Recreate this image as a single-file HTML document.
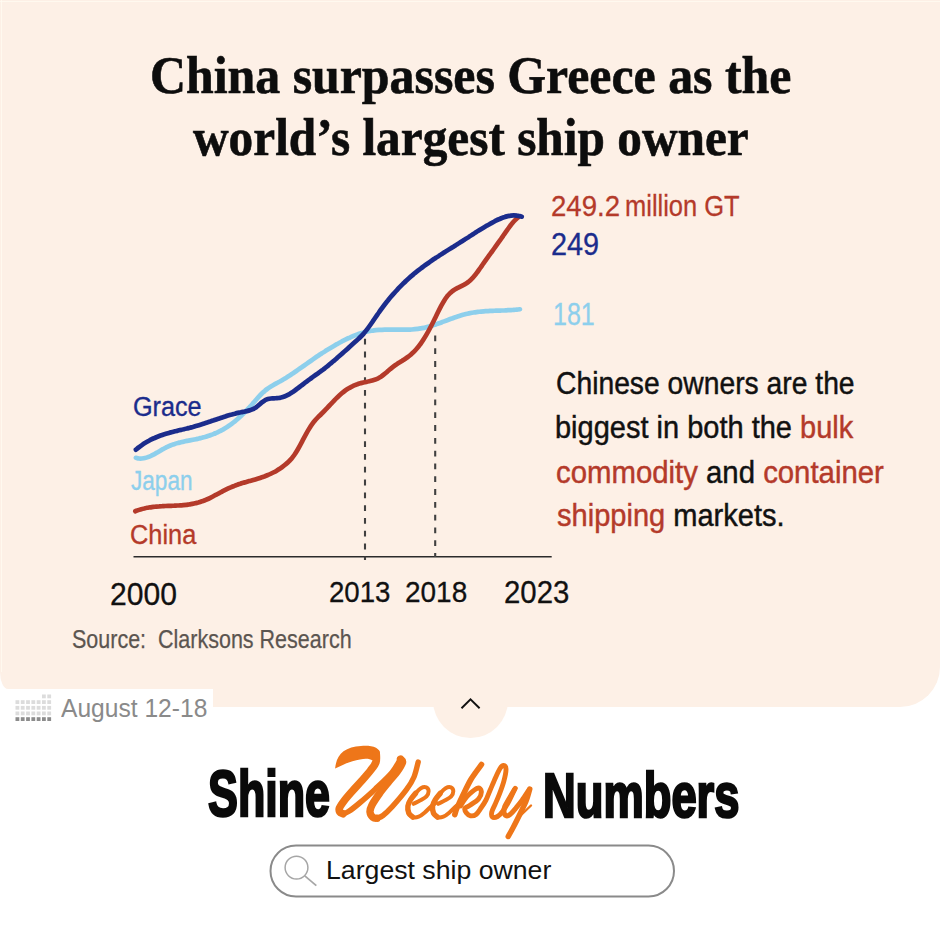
<!DOCTYPE html>
<html><head><meta charset="utf-8"><style>
html,body{margin:0;padding:0;width:940px;height:939px;overflow:hidden;background:#fff}
.abs{position:absolute}
.t{position:absolute;line-height:0;white-space:nowrap;transform-origin:0 0;font-family:'Liberation Sans',sans-serif}
</style></head><body>
<div class="abs" style="left:0;top:0;width:940px;height:707px;background:#FDF0E6;border-bottom-right-radius:40px"></div>
<div class="abs" style="left:0;top:688.5px;width:213px;height:30px;background:#fff"></div>
<div class="abs" style="left:0;top:668.5px;width:20px;height:20px;background:#fff"></div>
<div class="abs" style="left:0;top:658.5px;width:40px;height:30px;background:#FDF0E6;border-bottom-left-radius:8px 17px"></div>
<div class="abs" style="left:432.5px;top:662.5px;width:75px;height:75px;border-radius:50%;background:#FDF0E6"></div>
<div class="abs" style="left:0;top:1px;width:940px;height:1px;background:#FFFBF1;opacity:.8"></div>
<div class="abs" style="left:1px;top:0;width:1px;height:672px;background:#FFFBF1;opacity:.8"></div>
<svg class="abs" width="940" height="939" viewBox="0 0 940 939" style="left:0;top:0">
<line x1="133.5" y1="556.8" x2="551.7" y2="556.8" stroke="#2b2b2b" stroke-width="1.6"/>
<line x1="365" y1="338.8" x2="365" y2="560" stroke="#404040" stroke-width="2.1" stroke-dasharray="5.8 7"/>
<line x1="435.2" y1="335.5" x2="435.2" y2="557" stroke="#404040" stroke-width="2.1" stroke-dasharray="5.8 7"/>
<path d="M135.9,457.8 C136.4,457.9 137.9,458.4 138.9,458.5 C139.9,458.6 140.9,458.6 141.9,458.5 C142.9,458.4 143.9,458.3 144.9,458.0 C145.9,457.8 146.9,457.5 147.9,457.1 C148.9,456.8 149.9,456.3 150.9,455.9 C151.9,455.4 152.9,454.9 153.9,454.4 C154.9,453.8 155.9,453.2 156.9,452.7 C157.9,452.1 158.9,451.5 159.9,450.9 C160.9,450.3 161.9,449.7 162.9,449.2 C163.9,448.6 164.9,448.1 165.9,447.6 C166.9,447.0 167.9,446.6 168.9,446.1 C169.9,445.7 170.9,445.3 171.9,444.9 C172.9,444.5 173.9,444.2 174.9,443.9 C175.9,443.5 176.9,443.2 177.9,443.0 C178.9,442.7 179.9,442.5 180.9,442.2 C181.9,442.0 182.9,441.8 183.9,441.6 C184.9,441.3 185.9,441.1 186.9,440.9 C187.9,440.7 188.9,440.6 189.9,440.4 C190.9,440.2 191.9,440.0 192.9,439.8 C193.9,439.6 194.9,439.4 195.9,439.2 C196.9,439.0 197.9,438.7 198.9,438.5 C199.9,438.3 200.9,438.0 201.9,437.8 C202.9,437.5 203.9,437.2 204.9,437.0 C205.9,436.7 206.9,436.4 207.9,436.0 C208.9,435.7 209.9,435.4 210.9,435.0 C211.9,434.7 212.9,434.3 213.9,433.9 C214.9,433.5 215.9,433.0 216.9,432.6 C217.9,432.1 218.9,431.7 219.9,431.2 C220.9,430.7 221.9,430.1 222.9,429.6 C223.9,429.0 224.9,428.4 225.9,427.8 C226.9,427.2 227.9,426.5 228.9,425.8 C229.9,425.2 230.9,424.4 231.9,423.7 C232.9,422.9 233.9,422.1 234.9,421.3 C235.9,420.5 236.9,419.6 237.9,418.7 C238.9,417.8 239.9,416.9 240.9,416.0 C241.9,415.0 242.9,414.0 243.9,413.0 C244.9,412.0 245.9,411.0 246.9,410.0 C247.9,408.9 248.9,407.9 249.9,406.8 C250.9,405.7 251.9,404.6 252.9,403.4 C253.9,402.3 254.9,401.2 255.9,400.0 C256.9,398.9 257.9,397.8 258.9,396.7 C259.9,395.6 260.9,394.5 261.9,393.5 C262.9,392.6 263.9,391.6 264.9,390.8 C265.9,389.9 266.9,389.2 267.9,388.5 C268.9,387.7 269.9,387.1 270.9,386.5 C271.9,385.9 272.9,385.3 273.9,384.7 C274.9,384.2 275.9,383.6 276.9,383.1 C277.9,382.6 278.9,382.0 279.9,381.5 C280.9,380.9 281.9,380.3 282.9,379.7 C283.9,379.2 284.9,378.5 285.9,377.9 C286.9,377.3 287.9,376.7 288.9,376.0 C289.9,375.4 290.9,374.7 291.9,374.0 C292.9,373.4 293.9,372.7 294.9,372.0 C295.9,371.3 296.9,370.6 297.9,369.9 C298.9,369.2 299.9,368.5 300.9,367.8 C301.9,367.1 302.9,366.4 303.9,365.7 C304.9,365.0 305.9,364.3 306.9,363.6 C307.9,362.9 308.9,362.2 309.9,361.5 C310.9,360.8 311.9,360.1 312.9,359.4 C313.9,358.7 314.9,358.0 315.9,357.3 C316.9,356.6 317.9,356.0 318.9,355.3 C319.9,354.6 320.9,354.0 321.9,353.3 C322.9,352.7 323.9,352.0 324.9,351.4 C325.9,350.7 326.9,350.1 327.9,349.5 C328.9,348.9 329.9,348.3 330.9,347.7 C331.9,347.1 332.9,346.5 333.9,345.9 C334.9,345.3 335.9,344.7 336.9,344.2 C337.9,343.6 338.9,343.0 339.9,342.5 C340.9,342.0 341.9,341.4 342.9,340.9 C343.9,340.4 344.9,339.9 345.9,339.4 C346.9,338.9 347.9,338.4 348.9,338.0 C349.9,337.5 350.9,337.1 351.9,336.6 C352.9,336.2 353.9,335.8 354.9,335.4 C355.9,335.0 356.9,334.6 357.9,334.3 C358.9,333.9 359.9,333.6 360.9,333.3 C361.9,333.0 362.9,332.7 363.9,332.4 C364.9,332.1 365.9,331.9 366.9,331.6 C367.9,331.4 368.9,331.2 369.9,331.0 C370.9,330.9 371.9,330.7 372.9,330.6 C373.9,330.4 374.9,330.3 375.9,330.2 C376.9,330.1 377.9,330.0 378.9,329.9 C379.9,329.9 380.9,329.8 381.9,329.8 C382.9,329.7 383.9,329.7 384.9,329.7 C385.9,329.7 386.9,329.7 387.9,329.6 C388.9,329.6 389.9,329.6 390.9,329.6 C391.9,329.6 392.9,329.7 393.9,329.7 C394.9,329.7 395.9,329.7 396.9,329.7 C397.9,329.7 398.9,329.7 399.9,329.7 C400.9,329.7 401.9,329.7 402.9,329.7 C403.9,329.7 404.9,329.7 405.9,329.7 C406.9,329.7 407.9,329.7 408.9,329.6 C409.9,329.6 410.9,329.5 411.9,329.5 C412.9,329.4 413.9,329.3 414.9,329.2 C415.9,329.1 416.9,329.0 417.9,328.9 C418.9,328.8 419.9,328.6 420.9,328.4 C421.9,328.3 422.9,328.1 423.9,327.9 C424.9,327.6 425.9,327.4 426.9,327.1 C427.9,326.9 428.9,326.6 429.9,326.3 C430.9,326.0 431.9,325.7 432.9,325.4 C433.9,325.1 434.9,324.7 435.9,324.4 C436.9,324.0 437.9,323.7 438.9,323.3 C439.9,323.0 440.9,322.6 441.9,322.2 C442.9,321.8 443.9,321.5 444.9,321.1 C445.9,320.7 446.9,320.3 447.9,320.0 C448.9,319.6 449.9,319.2 450.9,318.8 C451.9,318.5 452.9,318.1 453.9,317.7 C454.9,317.4 455.9,317.0 456.9,316.7 C457.9,316.4 458.9,316.0 459.9,315.7 C460.9,315.4 461.9,315.1 462.9,314.8 C463.9,314.6 464.9,314.3 465.9,314.0 C466.9,313.8 467.9,313.6 468.9,313.4 C469.9,313.2 470.9,313.0 471.9,312.8 C472.9,312.6 473.9,312.5 474.9,312.3 C475.9,312.2 476.9,312.0 477.9,311.9 C478.9,311.8 479.9,311.7 480.9,311.6 C481.9,311.5 482.9,311.4 483.9,311.3 C484.9,311.2 485.9,311.2 486.9,311.1 C487.9,311.1 488.9,311.0 489.9,310.9 C490.9,310.9 491.9,310.9 492.9,310.8 C493.9,310.8 494.9,310.7 495.9,310.7 C496.9,310.7 497.9,310.6 498.9,310.6 C499.9,310.6 500.9,310.5 501.9,310.5 C502.9,310.4 503.9,310.4 504.9,310.4 C505.9,310.3 506.9,310.3 507.9,310.2 C508.9,310.2 509.9,310.1 510.9,310.1 C511.9,310.0 512.9,310.0 513.9,309.9 C514.9,309.8 515.9,309.7 516.9,309.6 C517.9,309.5 519.4,309.4 519.9,309.3" fill="none" stroke="#8DCFEC" stroke-width="4.7" stroke-linecap="round"/>
<path d="M135.3,511.2 C135.8,511.0 137.3,510.5 138.3,510.1 C139.3,509.8 140.3,509.5 141.3,509.2 C142.3,508.9 143.3,508.7 144.3,508.5 C145.3,508.2 146.3,508.0 147.3,507.8 C148.3,507.6 149.3,507.5 150.3,507.3 C151.3,507.2 152.3,507.0 153.3,506.9 C154.3,506.8 155.3,506.7 156.3,506.6 C157.3,506.5 158.3,506.4 159.3,506.4 C160.3,506.3 161.3,506.2 162.3,506.2 C163.3,506.1 164.3,506.1 165.3,506.0 C166.3,506.0 167.3,506.0 168.3,505.9 C169.3,505.9 170.3,505.8 171.3,505.8 C172.3,505.8 173.3,505.7 174.3,505.7 C175.3,505.6 176.3,505.6 177.3,505.5 C178.3,505.5 179.3,505.4 180.3,505.3 C181.3,505.3 182.3,505.2 183.3,505.1 C184.3,505.0 185.3,504.9 186.3,504.8 C187.3,504.7 188.3,504.5 189.3,504.4 C190.3,504.2 191.3,504.1 192.3,503.9 C193.3,503.7 194.3,503.5 195.3,503.2 C196.3,503.0 197.3,502.7 198.3,502.5 C199.3,502.2 200.3,501.9 201.3,501.5 C202.3,501.2 203.3,500.9 204.3,500.5 C205.3,500.1 206.3,499.6 207.3,499.2 C208.3,498.8 209.3,498.3 210.3,497.8 C211.3,497.3 212.3,496.8 213.3,496.3 C214.3,495.7 215.3,495.2 216.3,494.7 C217.3,494.1 218.3,493.6 219.3,493.1 C220.3,492.5 221.3,492.0 222.3,491.4 C223.3,490.9 224.3,490.4 225.3,489.9 C226.3,489.4 227.3,488.9 228.3,488.4 C229.3,487.9 230.3,487.5 231.3,487.1 C232.3,486.6 233.3,486.2 234.3,485.9 C235.3,485.5 236.3,485.1 237.3,484.8 C238.3,484.4 239.3,484.1 240.3,483.8 C241.3,483.4 242.3,483.1 243.3,482.8 C244.3,482.5 245.3,482.3 246.3,482.0 C247.3,481.7 248.3,481.4 249.3,481.1 C250.3,480.8 251.3,480.6 252.3,480.3 C253.3,480.0 254.3,479.7 255.3,479.4 C256.3,479.1 257.3,478.8 258.3,478.5 C259.3,478.2 260.3,477.9 261.3,477.5 C262.3,477.2 263.3,476.8 264.3,476.5 C265.3,476.1 266.3,475.7 267.3,475.3 C268.3,474.9 269.3,474.5 270.3,474.0 C271.3,473.5 272.3,473.0 273.3,472.5 C274.3,472.0 275.3,471.5 276.3,470.9 C277.3,470.3 278.3,469.7 279.3,469.0 C280.3,468.4 281.3,467.7 282.3,467.0 C283.3,466.2 284.3,465.5 285.3,464.6 C286.3,463.8 287.3,463.0 288.3,462.0 C289.3,461.1 290.3,460.0 291.3,458.9 C292.3,457.7 293.3,456.5 294.3,455.0 C295.3,453.6 296.3,452.0 297.3,450.3 C298.3,448.6 299.3,446.8 300.3,444.9 C301.3,443.1 302.3,441.1 303.3,439.2 C304.3,437.3 305.3,435.4 306.3,433.6 C307.3,431.8 308.3,430.1 309.3,428.4 C310.3,426.8 311.3,425.3 312.3,423.9 C313.3,422.5 314.3,421.2 315.3,420.1 C316.3,418.9 317.3,417.9 318.3,416.9 C319.3,415.9 320.3,415.0 321.3,414.0 C322.3,413.0 323.3,412.0 324.3,411.0 C325.3,410.0 326.3,409.0 327.3,407.9 C328.3,406.9 329.3,405.8 330.3,404.7 C331.3,403.7 332.3,402.6 333.3,401.5 C334.3,400.5 335.3,399.4 336.3,398.4 C337.3,397.4 338.3,396.4 339.3,395.5 C340.3,394.6 341.3,393.7 342.3,392.8 C343.3,392.0 344.3,391.2 345.3,390.5 C346.3,389.8 347.3,389.1 348.3,388.5 C349.3,387.9 350.3,387.3 351.3,386.8 C352.3,386.3 353.3,385.9 354.3,385.4 C355.3,385.0 356.3,384.6 357.3,384.3 C358.3,383.9 359.3,383.6 360.3,383.3 C361.3,383.0 362.3,382.8 363.3,382.5 C364.3,382.3 365.3,382.1 366.3,381.9 C367.3,381.6 368.3,381.4 369.3,381.2 C370.3,381.0 371.3,380.8 372.3,380.5 C373.3,380.2 374.3,379.9 375.3,379.6 C376.3,379.2 377.3,378.8 378.3,378.3 C379.3,377.7 380.3,377.1 381.3,376.5 C382.3,375.8 383.3,375.0 384.3,374.2 C385.3,373.4 386.3,372.6 387.3,371.7 C388.3,370.9 389.3,370.0 390.3,369.1 C391.3,368.3 392.3,367.5 393.3,366.7 C394.3,365.9 395.3,365.2 396.3,364.6 C397.3,363.9 398.3,363.2 399.3,362.6 C400.3,361.9 401.3,361.3 402.3,360.7 C403.3,360.0 404.3,359.4 405.3,358.7 C406.3,358.0 407.3,357.4 408.3,356.6 C409.3,355.9 410.3,355.1 411.3,354.2 C412.3,353.4 413.3,352.4 414.3,351.4 C415.3,350.4 416.3,349.3 417.3,348.1 C418.3,346.9 419.3,345.6 420.3,344.2 C421.3,342.9 422.3,341.4 423.3,339.8 C424.3,338.2 425.3,336.6 426.3,334.9 C427.3,333.2 428.3,331.4 429.3,329.5 C430.3,327.6 431.3,325.7 432.3,323.7 C433.3,321.8 434.3,319.7 435.3,317.7 C436.3,315.6 437.3,313.5 438.3,311.5 C439.3,309.5 440.3,307.5 441.3,305.6 C442.3,303.8 443.3,302.0 444.3,300.4 C445.3,298.8 446.3,297.4 447.3,296.1 C448.3,294.9 449.3,293.9 450.3,292.9 C451.3,292.0 452.3,291.2 453.3,290.5 C454.3,289.8 455.3,289.2 456.3,288.7 C457.3,288.1 458.3,287.7 459.3,287.2 C460.3,286.7 461.3,286.2 462.3,285.7 C463.3,285.2 464.3,284.7 465.3,284.0 C466.3,283.4 467.3,282.7 468.3,282.0 C469.3,281.2 470.3,280.3 471.3,279.3 C472.3,278.4 473.3,277.3 474.3,276.1 C475.3,274.9 476.3,273.6 477.3,272.2 C478.3,270.9 479.3,269.4 480.3,268.0 C481.3,266.6 482.3,265.1 483.3,263.7 C484.3,262.3 485.3,260.9 486.3,259.4 C487.3,258.0 488.3,256.6 489.3,255.2 C490.3,253.8 491.3,252.5 492.3,251.1 C493.3,249.7 494.3,248.3 495.3,246.9 C496.3,245.5 497.3,244.1 498.3,242.7 C499.3,241.3 500.3,239.9 501.3,238.5 C502.3,237.1 503.3,235.6 504.3,234.2 C505.3,232.7 506.3,231.3 507.3,229.9 C508.3,228.5 509.3,227.0 510.3,225.7 C511.3,224.4 512.3,223.2 513.3,222.0 C514.3,220.9 515.4,219.7 516.3,218.9 C517.2,218.1 518.1,217.5 518.5,217.2" fill="none" stroke="#B43A2A" stroke-width="4.7" stroke-linecap="round"/>
<path d="M135.9,449.7 C136.4,449.3 137.9,448.0 138.9,447.3 C139.9,446.5 140.9,445.8 141.9,445.1 C142.9,444.4 143.9,443.7 144.9,443.1 C145.9,442.5 146.9,441.9 147.9,441.3 C148.9,440.8 149.9,440.2 150.9,439.7 C151.9,439.2 152.9,438.7 153.9,438.3 C154.9,437.8 155.9,437.4 156.9,437.0 C157.9,436.6 158.9,436.2 159.9,435.8 C160.9,435.4 161.9,435.1 162.9,434.7 C163.9,434.4 164.9,434.1 165.9,433.8 C166.9,433.5 167.9,433.2 168.9,432.9 C169.9,432.6 170.9,432.3 171.9,432.1 C172.9,431.8 173.9,431.6 174.9,431.3 C175.9,431.1 176.9,430.8 177.9,430.6 C178.9,430.3 179.9,430.1 180.9,429.9 C181.9,429.6 182.9,429.4 183.9,429.2 C184.9,428.9 185.9,428.7 186.9,428.5 C187.9,428.2 188.9,428.0 189.9,427.7 C190.9,427.5 191.9,427.2 192.9,427.0 C193.9,426.7 194.9,426.4 195.9,426.1 C196.9,425.8 197.9,425.5 198.9,425.2 C199.9,424.9 200.9,424.6 201.9,424.3 C202.9,424.0 203.9,423.6 204.9,423.3 C205.9,423.0 206.9,422.6 207.9,422.3 C208.9,422.0 209.9,421.6 210.9,421.3 C211.9,420.9 212.9,420.6 213.9,420.3 C214.9,419.9 215.9,419.6 216.9,419.2 C217.9,418.9 218.9,418.5 219.9,418.2 C220.9,417.9 221.9,417.5 222.9,417.2 C223.9,416.9 224.9,416.6 225.9,416.3 C226.9,415.9 227.9,415.6 228.9,415.3 C229.9,415.0 230.9,414.7 231.9,414.5 C232.9,414.2 233.9,413.9 234.9,413.7 C235.9,413.4 236.9,413.1 237.9,412.9 C238.9,412.7 239.9,412.5 240.9,412.3 C241.9,412.0 242.9,411.9 243.9,411.7 C244.9,411.5 245.9,411.3 246.9,411.1 C247.9,410.9 248.9,410.7 249.9,410.3 C250.9,410.0 251.9,409.7 252.9,409.2 C253.9,408.7 254.9,408.1 255.9,407.5 C256.9,406.8 257.9,405.9 258.9,405.0 C259.9,404.2 260.9,403.2 261.9,402.4 C262.9,401.6 263.9,400.8 264.9,400.3 C265.9,399.7 266.9,399.4 267.9,399.1 C268.9,398.8 269.9,398.6 270.9,398.5 C271.9,398.4 272.9,398.4 273.9,398.3 C274.9,398.2 275.9,398.3 276.9,398.2 C277.9,398.1 278.9,398.0 279.9,397.8 C280.9,397.7 281.9,397.4 282.9,397.1 C283.9,396.8 284.9,396.4 285.9,395.9 C286.9,395.4 287.9,394.9 288.9,394.4 C289.9,393.8 290.9,393.2 291.9,392.5 C292.9,391.9 293.9,391.2 294.9,390.5 C295.9,389.8 296.9,389.0 297.9,388.2 C298.9,387.5 299.9,386.7 300.9,385.9 C301.9,385.2 302.9,384.4 303.9,383.6 C304.9,382.8 305.9,382.1 306.9,381.3 C307.9,380.5 308.9,379.8 309.9,379.1 C310.9,378.4 311.9,377.6 312.9,376.9 C313.9,376.2 314.9,375.5 315.9,374.8 C316.9,374.1 317.9,373.4 318.9,372.6 C319.9,371.9 320.9,371.2 321.9,370.4 C322.9,369.7 323.9,368.9 324.9,368.2 C325.9,367.4 326.9,366.6 327.9,365.8 C328.9,365.0 329.9,364.2 330.9,363.3 C331.9,362.5 332.9,361.7 333.9,360.8 C334.9,360.0 335.9,359.1 336.9,358.2 C337.9,357.4 338.9,356.5 339.9,355.6 C340.9,354.7 341.9,353.8 342.9,352.9 C343.9,352.1 344.9,351.2 345.9,350.3 C346.9,349.4 347.9,348.5 348.9,347.5 C349.9,346.6 350.9,345.7 351.9,344.8 C352.9,343.9 353.9,343.0 354.9,342.1 C355.9,341.2 356.9,340.3 357.9,339.4 C358.9,338.4 359.9,337.5 360.9,336.5 C361.9,335.5 362.9,334.4 363.9,333.3 C364.9,332.1 365.9,330.9 366.9,329.6 C367.9,328.3 368.9,326.9 369.9,325.5 C370.9,324.1 371.9,322.7 372.9,321.2 C373.9,319.8 374.9,318.3 375.9,316.8 C376.9,315.4 377.9,313.9 378.9,312.5 C379.9,311.0 380.9,309.6 381.9,308.3 C382.9,306.9 383.9,305.6 384.9,304.3 C385.9,303.0 386.9,301.7 387.9,300.5 C388.9,299.2 389.9,298.0 390.9,296.8 C391.9,295.6 392.9,294.5 393.9,293.4 C394.9,292.2 395.9,291.1 396.9,290.1 C397.9,289.0 398.9,287.9 399.9,286.9 C400.9,285.9 401.9,284.9 402.9,283.9 C403.9,282.9 404.9,282.0 405.9,281.0 C406.9,280.1 407.9,279.2 408.9,278.3 C409.9,277.4 410.9,276.5 411.9,275.7 C412.9,274.8 413.9,274.0 414.9,273.1 C415.9,272.3 416.9,271.5 417.9,270.7 C418.9,269.9 419.9,269.1 420.9,268.4 C421.9,267.6 422.9,266.9 423.9,266.1 C424.9,265.4 425.9,264.7 426.9,264.0 C427.9,263.3 428.9,262.6 429.9,261.9 C430.9,261.2 431.9,260.5 432.9,259.8 C433.9,259.1 434.9,258.5 435.9,257.8 C436.9,257.2 437.9,256.5 438.9,255.9 C439.9,255.2 440.9,254.6 441.9,253.9 C442.9,253.3 443.9,252.7 444.9,252.0 C445.9,251.4 446.9,250.8 447.9,250.1 C448.9,249.5 449.9,248.9 450.9,248.3 C451.9,247.6 452.9,247.0 453.9,246.4 C454.9,245.8 455.9,245.1 456.9,244.5 C457.9,243.9 458.9,243.3 459.9,242.6 C460.9,242.0 461.9,241.4 462.9,240.7 C463.9,240.1 464.9,239.4 465.9,238.8 C466.9,238.2 467.9,237.5 468.9,236.9 C469.9,236.2 470.9,235.6 471.9,234.9 C472.9,234.3 473.9,233.6 474.9,233.0 C475.9,232.4 476.9,231.7 477.9,231.1 C478.9,230.5 479.9,229.9 480.9,229.2 C481.9,228.6 482.9,228.0 483.9,227.4 C484.9,226.8 485.9,226.2 486.9,225.6 C487.9,225.1 488.9,224.5 489.9,223.9 C490.9,223.4 491.9,222.8 492.9,222.3 C493.9,221.8 494.9,221.2 495.9,220.7 C496.9,220.2 497.9,219.7 498.9,219.3 C499.9,218.8 500.9,218.4 501.9,218.0 C502.9,217.6 503.9,217.3 504.9,217.0 C505.9,216.6 506.9,216.4 507.9,216.1 C508.9,215.9 509.9,215.7 510.9,215.6 C511.9,215.5 512.9,215.4 513.9,215.4 C514.9,215.4 515.9,215.4 516.9,215.6 C517.9,215.7 519.1,216.0 519.9,216.2 C520.7,216.3 521.4,216.6 521.7,216.7" fill="none" stroke="#1B2C8C" stroke-width="4.7" stroke-linecap="round"/>
</svg>
<svg class="abs" width="940" height="939" viewBox="0 0 940 939" style="left:0;top:0">
<rect x="42.0" y="694.5" width="3.8" height="3.8" fill="#dcdcdc"/><rect x="47.3" y="694.5" width="3.8" height="3.8" fill="#dcdcdc"/><rect x="15.5" y="700.2" width="3.8" height="3.8" fill="#dcdcdc"/><rect x="20.8" y="700.2" width="3.8" height="3.8" fill="#dcdcdc"/><rect x="26.1" y="700.2" width="3.8" height="3.8" fill="#dcdcdc"/><rect x="31.4" y="700.2" width="3.8" height="3.8" fill="#dcdcdc"/><rect x="36.7" y="700.2" width="3.8" height="3.8" fill="#dcdcdc"/><rect x="42.0" y="700.2" width="3.8" height="3.8" fill="#dcdcdc"/><rect x="47.3" y="700.2" width="3.8" height="3.8" fill="#dcdcdc"/><rect x="15.5" y="705.9" width="3.8" height="3.8" fill="#dcdcdc"/><rect x="20.8" y="705.9" width="3.8" height="3.8" fill="#dcdcdc"/><rect x="26.1" y="705.9" width="3.8" height="3.8" fill="#dcdcdc"/><rect x="31.4" y="705.9" width="3.8" height="3.8" fill="#dcdcdc"/><rect x="36.7" y="705.9" width="3.8" height="3.8" fill="#dcdcdc"/><rect x="42.0" y="705.9" width="3.8" height="3.8" fill="#dcdcdc"/><rect x="47.3" y="705.9" width="3.8" height="3.8" fill="#dcdcdc"/><rect x="15.5" y="711.5" width="3.8" height="3.8" fill="#dcdcdc"/><rect x="20.8" y="711.5" width="3.8" height="3.8" fill="#dcdcdc"/><rect x="26.1" y="711.5" width="3.8" height="3.8" fill="#dcdcdc"/><rect x="31.4" y="711.5" width="3.8" height="3.8" fill="#dcdcdc"/><rect x="36.7" y="711.5" width="3.8" height="3.8" fill="#dcdcdc"/><rect x="42.0" y="711.5" width="3.8" height="3.8" fill="#dcdcdc"/><rect x="47.3" y="711.5" width="3.8" height="3.8" fill="#dcdcdc"/><rect x="15.5" y="717.2" width="3.8" height="3.8" fill="#8c8c8c"/><rect x="20.8" y="717.2" width="3.8" height="3.8" fill="#8c8c8c"/><rect x="26.1" y="717.2" width="3.8" height="3.8" fill="#8c8c8c"/><rect x="31.4" y="717.2" width="3.8" height="3.8" fill="#8c8c8c"/><rect x="36.7" y="717.2" width="3.8" height="3.8" fill="#8c8c8c"/><rect x="42.0" y="717.2" width="3.8" height="3.8" fill="#8c8c8c"/><rect x="47.3" y="717.2" width="3.8" height="3.8" fill="#8c8c8c"/>
<path d="M335.1,768.6 C335.8,761 338.5,755 343.5,751.3 C348,748 354,746.3 361,745.9 C367,745.5 372,745.8 376,747.7 C378.5,749 379.8,751.5 380,755 L372.5,760.5 C370,758.8 366,758.4 360,759.4 C352,760.8 344,764 335.1,768.6 Z" fill="#EE7619"/>
<g fill="none" stroke="#EE7619" stroke-linecap="round" stroke-linejoin="round">
<path d="M376.2,753.0 C376.2,754.5 376.9,759.1 376.0,762.0 C375.1,764.9 372.9,767.3 370.5,770.5 C368.1,773.7 364.6,777.5 361.5,781.0 C358.4,784.5 354.9,788.2 352.0,791.5 C349.1,794.8 346.1,798.2 344.0,801.0 C341.9,803.8 340.2,806.2 339.5,808.0 C338.8,809.8 339.2,811.0 339.8,812.0 C340.4,813.0 342.5,813.5 343.0,813.8" stroke-width="7.6"/>
<path d="M343.0,813.8 C343.9,813.4 345.8,813.2 348.5,811.5 C351.2,809.8 354.6,807.2 359.0,803.5 C363.4,799.8 369.7,794.4 375.2,789.2 C380.7,784.0 387.8,777.5 392.0,772.5 C396.2,767.5 399.1,761.2 400.5,759.0" stroke-width="5.6"/>
<path d="M400.5,759.0 C400.8,759.6 403.1,760.3 402.5,762.5 C401.9,764.7 399.2,768.8 397.0,772.0 C394.8,775.2 391.9,777.9 389.0,781.5 C386.1,785.1 382.3,789.6 379.5,793.5 C376.7,797.4 373.6,801.9 372.0,805.0 C370.4,808.1 369.8,809.9 370.0,812.0 C370.2,814.1 371.8,816.5 373.0,817.5 C374.2,818.5 376.3,818.1 377.0,818.2" stroke-width="7.4"/>
<path d="M377.0,818.2 C378.0,817.8 380.4,817.5 383.0,815.5 C385.6,813.5 388.5,810.8 392.5,806.4 C396.5,802.0 403.2,794.1 406.8,789.2 C410.4,784.3 412.1,781.5 414.0,777.0 C415.9,772.5 417.5,764.5 418.2,762.0" stroke-width="5.4"/>
<path d="M413.5,803.8 C414.6,803.2 418.2,801.5 420.4,800.3 C422.6,799.0 425.1,797.8 426.5,796.3 C427.9,794.8 428.6,792.8 428.6,791.3 C428.6,789.8 427.6,787.9 426.3,787.4 C425.0,786.9 422.7,787.2 420.9,788.2 C419.1,789.2 417.2,791.5 415.5,793.4 C413.8,795.3 411.9,797.6 410.6,799.7 C409.3,801.8 408.2,803.8 407.9,806.0 C407.6,808.2 408.0,811.2 408.8,813.1 C409.6,815.0 411.2,816.5 412.8,817.1 C414.4,817.7 416.8,817.4 418.7,816.7 C420.6,816.0 422.5,814.4 424.5,812.7 C426.5,811.1 428.8,808.5 430.7,806.8 C432.6,805.1 435.1,803.2 436.0,802.5" stroke-width="4"/>
<path d="M415.5,793.4 C414.7,794.5 411.9,797.6 410.6,799.7 C409.3,801.8 408.2,803.8 407.9,806.0 C407.6,808.2 408.0,811.2 408.8,813.1 C409.6,815.0 412.1,816.4 412.8,817.1" stroke-width="5.4"/>
<path d="M438.2,803.8 C439.3,803.2 442.9,801.5 445.1,800.3 C447.3,799.0 449.8,797.8 451.2,796.3 C452.6,794.8 453.3,792.8 453.3,791.3 C453.3,789.8 452.3,787.9 451.0,787.4 C449.7,786.9 447.4,787.2 445.6,788.2 C443.8,789.2 441.9,791.5 440.2,793.4 C438.5,795.3 436.6,797.6 435.3,799.7 C434.0,801.8 432.9,803.8 432.6,806.0 C432.3,808.2 432.7,811.2 433.5,813.1 C434.3,815.0 435.9,816.5 437.5,817.1 C439.1,817.7 441.4,817.4 443.4,816.7 C445.3,816.0 447.2,814.4 449.2,812.7 C451.2,811.1 453.6,808.4 455.4,806.8 C457.2,805.2 459.2,803.6 460.0,803.0" stroke-width="4"/>
<path d="M440.2,793.4 C439.4,794.5 436.6,797.6 435.3,799.7 C434.0,801.8 432.9,803.8 432.6,806.0 C432.3,808.2 432.7,811.2 433.5,813.1 C434.3,815.0 436.8,816.4 437.5,817.1" stroke-width="5.4"/>
<path d="M481.5,764.5 C480.6,765.8 477.8,769.4 476.0,772.0 C474.2,774.6 472.8,776.2 470.6,780.0 C468.4,783.8 465.3,790.3 463.0,795.0 C460.7,799.7 458.4,804.8 457.0,808.0 C455.6,811.2 455.2,813.4 454.8,814.5" stroke-width="5.6"/>
<path d="M460.5,806.0 C461.2,804.8 463.4,801.1 465.0,799.0 C466.6,796.9 468.0,795.2 470.1,793.4 C472.2,791.6 475.8,788.5 477.7,788.1 C479.6,787.7 481.1,789.4 481.3,791.2 C481.5,793.0 480.7,796.3 478.6,798.8 C476.5,801.3 471.1,804.4 468.8,806.0 C466.5,807.6 465.2,807.4 464.8,808.6 C464.4,809.8 465.6,811.8 466.5,813.0 C467.4,814.2 468.9,815.5 470.5,815.8 C472.1,816.0 474.2,815.9 476.0,814.5 C477.8,813.1 479.6,809.9 481.3,807.5 C483.0,805.1 484.5,802.9 486.0,800.0 C487.5,797.1 488.6,793.7 490.2,790.0 C491.8,786.3 493.9,781.3 495.5,777.7 C497.1,774.1 498.7,770.5 500.0,768.5 C501.3,766.5 502.5,765.4 503.5,765.5 C504.5,765.6 505.9,766.4 506.0,769.0 C506.1,771.6 504.9,777.2 503.8,781.3 C502.7,785.4 501.0,789.9 499.5,793.8 C498.0,797.7 496.3,801.5 495.0,804.5 C493.7,807.5 492.2,809.9 491.8,812.0 C491.4,814.1 491.4,816.2 492.3,817.0 C493.2,817.8 495.7,817.5 497.5,816.5 C499.3,815.5 501.1,813.6 503.0,811.0 C504.9,808.4 507.1,804.6 509.0,801.0 C510.9,797.4 513.6,791.4 514.5,789.5" stroke-width="4.9"/>
<path d="M515.3,788.3 C514.3,789.9 511.2,794.9 509.5,797.9 C507.8,800.9 505.7,804.1 504.8,806.5 C503.9,808.9 503.8,810.5 504.0,812.0 C504.2,813.5 505.0,815.4 506.0,815.8 C507.0,816.2 508.3,815.8 510.0,814.5 C511.7,813.2 514.0,810.4 516.0,808.0 C518.0,805.6 520.1,803.1 522.3,800.0 C524.5,796.9 528.1,791.2 529.3,789.5" stroke-width="5"/>
<path d="M529.8,789.0 C529.2,791.0 527.8,796.9 526.1,801.1 C524.4,805.4 521.8,810.1 519.7,814.5 C517.6,818.9 515.2,823.6 513.3,827.3 C511.4,831.0 509.0,835.0 508.2,836.5" stroke-width="5.4"/>
<path d="M531,805.5 L518,818" stroke-width="2.4"/>
</g>
<path d="M461.5,708.2 L470.5,699.3 L479.6,708.2" fill="none" stroke="#111" stroke-width="1.9"/>
<rect x="270.5" y="845.5" width="403.5" height="51" rx="25.5" fill="#fff" stroke="#8a8a8a" stroke-width="2"/>
<circle cx="296.5" cy="867.6" r="11.4" fill="none" stroke="#a6a6a6" stroke-width="1.5"/>
<line x1="304.8" y1="875.8" x2="316.3" y2="885.6" stroke="#a6a6a6" stroke-width="1.7"/>
</svg>

<div class="t" style="left:149.51px;top:75.71px;font-size:51.84px;transform:scaleX(0.9615);color:#0d0d0d;letter-spacing:0px;font-family:'Liberation Serif';font-weight:700;-webkit-text-stroke:0.6px #0d0d0d">China surpasses Greece as the</div>
<div class="t" style="left:193.00px;top:137.47px;font-size:53.16px;transform:scaleX(0.9278);color:#0d0d0d;letter-spacing:0px;font-family:'Liberation Serif';font-weight:700;-webkit-text-stroke:0.6px #0d0d0d">world’s largest ship owner</div>
<div class="t" style="left:132.74px;top:406.91px;font-size:27.38px;transform:scaleX(0.9206);color:#1B2C8C;letter-spacing:0px;-webkit-text-stroke:0.35px #1B2C8C">Grace</div>
<div class="t" style="left:131.25px;top:480.71px;font-size:27.38px;transform:scaleX(0.8245);color:#8DCFEC;letter-spacing:0px;-webkit-text-stroke:0.35px #8DCFEC">Japan</div>
<div class="t" style="left:130.03px;top:535.01px;font-size:27.38px;transform:scaleX(0.9259);color:#B43A2A;letter-spacing:0px;-webkit-text-stroke:0.35px #B43A2A">China</div>
<div class="t" style="left:109.70px;top:594.74px;font-size:31.30px;transform:scaleX(0.9613);color:#111;letter-spacing:0px;-webkit-text-stroke:0.3px #111">2000</div>
<div class="t" style="left:328.62px;top:592.30px;font-size:30.29px;transform:scaleX(0.9129);color:#111;letter-spacing:0px;-webkit-text-stroke:0.3px #111">2013</div>
<div class="t" style="left:405.40px;top:592.30px;font-size:30.29px;transform:scaleX(0.9238);color:#111;letter-spacing:0px;-webkit-text-stroke:0.3px #111">2018</div>
<div class="t" style="left:504.03px;top:592.54px;font-size:31.30px;transform:scaleX(0.9388);color:#111;letter-spacing:0px;-webkit-text-stroke:0.3px #111">2023</div>
<div class="t" style="left:72.33px;top:639.29px;font-size:26.30px;transform:scaleX(0.8175);color:#5b5550;letter-spacing:0px;-webkit-text-stroke:0.25px #5b5550">Source:&nbsp; Clarksons Research</div>
<div class="t" style="left:550.82px;top:205.68px;font-size:30.33px;transform:scaleX(0.9095);color:#B43A2A;letter-spacing:0px;-webkit-text-stroke:0.3px #B43A2A">249.2</div>
<div class="t" style="left:624.82px;top:205.90px;font-size:29.69px;transform:scaleX(0.8582);color:#B43A2A;letter-spacing:0px;-webkit-text-stroke:0.3px #B43A2A">million GT</div>
<div class="t" style="left:550.56px;top:244.20px;font-size:30.58px;transform:scaleX(0.9436);color:#1B2C8C;letter-spacing:0px;-webkit-text-stroke:0.3px #1B2C8C">249</div>
<div class="t" style="left:553.19px;top:314.35px;font-size:30.43px;transform:scaleX(0.8236);color:#8DCFEC;letter-spacing:0px;-webkit-text-stroke:0.3px #8DCFEC">181</div>
<div class="t" style="left:556.09px;top:383.41px;font-size:31.65px;transform:scaleX(0.8935);color:#111;letter-spacing:0px;-webkit-text-stroke:0.45px #111">Chinese owners are the</div>
<div class="t" style="left:555.47px;top:426.51px;font-size:31.65px;transform:scaleX(0.9163);color:#111;letter-spacing:0px;-webkit-text-stroke:0.45px #111">biggest in both the <span style="color:#B43A2A;-webkit-text-stroke:0.45px #B43A2A">bulk</span></div>
<div class="t" style="left:556.33px;top:471.61px;font-size:31.65px;transform:scaleX(0.9274);color:#111;letter-spacing:0px;-webkit-text-stroke:0.45px #111"><span style="color:#B43A2A;-webkit-text-stroke:0.45px #B43A2A">commodity</span> and <span style="color:#B43A2A;-webkit-text-stroke:0.45px #B43A2A">container</span></div>
<div class="t" style="left:556.63px;top:514.71px;font-size:31.65px;transform:scaleX(0.9179);color:#111;letter-spacing:0px;-webkit-text-stroke:0.45px #111"><span style="color:#B43A2A;-webkit-text-stroke:0.45px #B43A2A">shipping</span> markets.</div>
<div class="t" style="left:61.20px;top:707.94px;font-size:26.16px;transform:scaleX(0.9407);color:#8a8a8a;letter-spacing:0px;">August 12-18</div>
<div class="t" style="left:325.77px;top:870.15px;font-size:26.70px;transform:scaleX(0.9993);color:#111;letter-spacing:0px;">Largest ship owner</div>
<div class="t" style="left:208.16px;top:794.49px;font-size:64.83px;transform:scaleX(0.6912);color:#0a0a0a;letter-spacing:0px;font-weight:700;-webkit-text-stroke:2.6px #0a0a0a">Shine</div>
<div class="t" style="left:542.89px;top:795.17px;font-size:62.87px;transform:scaleX(0.7209);color:#0a0a0a;letter-spacing:0px;font-weight:700;-webkit-text-stroke:2.6px #0a0a0a">Numbers</div>

</body></html>
